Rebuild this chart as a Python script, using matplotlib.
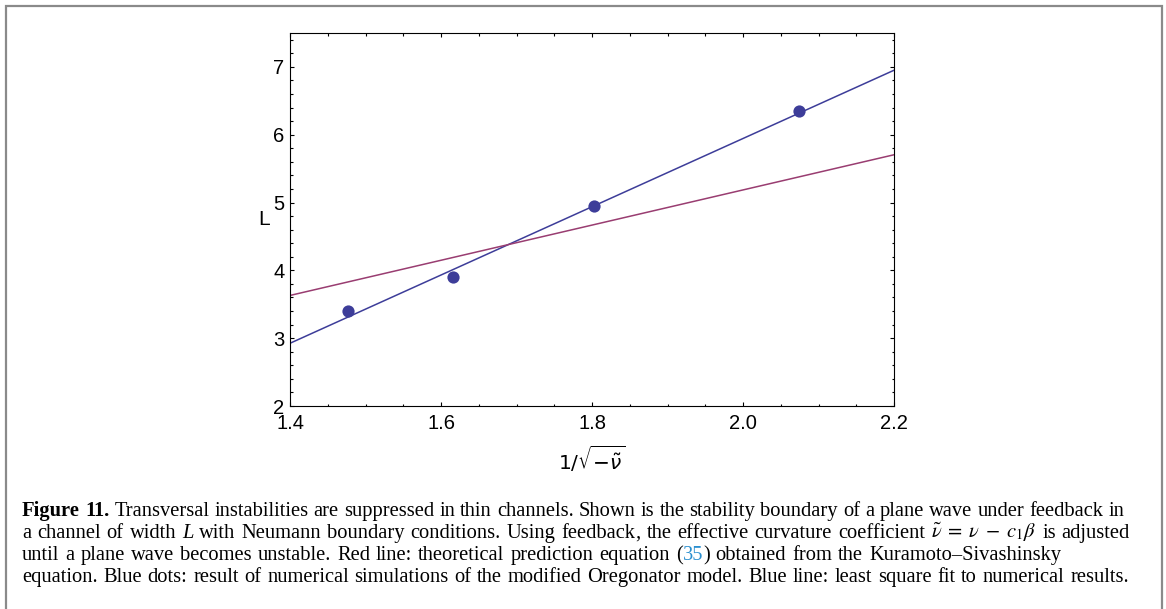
import numpy as np
import matplotlib
matplotlib.use('Agg')
import matplotlib.pyplot as plt
from matplotlib.patches import Rectangle
from matplotlib.ticker import MultipleLocator

# численные результаты (модифицированная модель Орегонатора)
x_sim = [1.477, 1.6155, 1.803, 2.0737]
L_sim = [3.40, 3.90, 4.945, 6.345]

# теоретическая граница: L = k / sqrt(-nu)
k_theory = 2.593
x_range = [1.4, 2.2]

blue = '#3d3d99'
red = '#993d71'

fig = plt.figure(figsize=(11.66, 6.09), dpi=100)

# рамка вокруг рисунка (нижний край уходит за пределы)
fig.patches.append(Rectangle((6 / 1166, -0.05), 1156 / 1166, 1 - 6 / 609 + 0.05,
                             transform=fig.transFigure, fill=False,
                             edgecolor='#8a8a8a', linewidth=1.6))

ax = fig.add_axes([290 / 1166, 1 - 406 / 609, 604 / 1166, 373 / 609])

# метод наименьших квадратов по точкам
p = np.polyfit(x_sim, L_sim, 1)
xx = np.array(x_range)
ax.plot(xx, np.polyval(p, xx), color=blue, lw=1.1)
ax.plot(xx, k_theory * xx, color=red, lw=1.1)
ax.plot(x_sim, L_sim, 'o', color=blue, ms=8.8, mec='none')

ax.set_xlim(1.4, 2.2)
ax.set_ylim(2, 7.5)
ax.xaxis.set_major_locator(MultipleLocator(0.2))
ax.xaxis.set_minor_locator(MultipleLocator(0.05))
ax.yaxis.set_major_locator(MultipleLocator(1))
ax.yaxis.set_minor_locator(MultipleLocator(0.2))
ax.xaxis.set_major_formatter(plt.FuncFormatter(lambda v, pos: '%.1f' % v))
ax.tick_params(which='both', direction='in', top=True, right=True, width=0.8,
               labelsize=14.5, labelfontfamily='Liberation Sans')
ax.tick_params(axis='x', which='major', pad=6)
ax.tick_params(axis='y', which='major', pad=4)
ax.tick_params(which='major', length=3.2)
ax.tick_params(which='minor', length=1.8)
for s in ax.spines.values():
    s.set_linewidth(0.8)

ax.set_ylabel('L', fontsize=15, family='Liberation Sans', rotation=0, va='center', ha='center')
ax.yaxis.set_label_coords(-0.043, 0.5)
xl = ax.set_xlabel(r'$1/\sqrt{-\tilde{\nu}}$', fontsize=14.5, family='Liberation Sans')
xl.set_math_fontfamily('dejavusans')
ax.xaxis.set_label_coords(0.5, -0.102)

# подпись к рисунку: строки собираются из кусков и растягиваются до правого края
styles = {
    'r': dict(family='Liberation Serif'),
    'b': dict(family='Liberation Serif', weight='bold'),
    'i': dict(family='Liberation Serif', style='italic'),
    'm': dict(family='Liberation Serif', math_fontfamily='stix'),
    'c': dict(family='Liberation Serif', color='#2b8fcf'),
}
cap_size = 14.8
cap_left = 22
cap_base = [516, 538, 560, 582]   # базовые линии строк, px сверху
cap_right = [1124, 1130, 1061, 1129]

line1 = [('Figure 11.', 'b', True),
         ('Transversal instabilities are suppressed in thin channels. Shown is the stability '
          'boundary of a plane wave under feedback in', 'r', True)]
line2 = [('a channel of width', 'r', True), ('L', 'i', True),
         ('with Neumann boundary conditions. Using feedback', 'r', False), (',', 'r', True),
         ('the effective curvature coefficient', 'r', True),
         (r'$\tilde{\nu}\;=\;\nu\;-\;c_1\beta$', 'm', True), ('is adjusted', 'r', True)]
line3 = [('until a plane wave becomes unstable. Red line: theoretical prediction equation', 'r', True),
         ('(', 'r', False), ('35', 'c', False), (')', 'r', True),
         ('obtained from the Kuramoto–Sivashinsky', 'r', True)]
line4 = [('equation. Blue dots: result of numerical simulations of the modified Oregonator model. '
          'Blue line: least square fit to numerical results.', 'r', True)]
lines = [line1, line2, line3, line4]

renderer = fig.canvas.get_renderer()


def make_words(parts):
    # слово = список кусков без пробела между ними
    words, cur = [], []
    for text, st, space_after in parts:
        if st == 'm':
            toks = [text]
        else:
            toks = text.split(' ')
        for j, tk in enumerate(toks):
            cur.append((tk, st))
            if j < len(toks) - 1 or space_after:
                words.append(cur)
                cur = []
    if cur:
        words.append(cur)
    return words


for parts, y, xr in zip(lines, cap_base, cap_right):
    words = make_words(parts)
    placed = []
    for w in words:
        pieces = []
        for tk, st in w:
            t = fig.text(0, 1 - y / 609, tk, fontsize=cap_size, va='baseline',
                         ha='left', **styles[st])
            pieces.append((t, t.get_window_extent(renderer).width))
        placed.append(pieces)
    widths = [sum(pw for _, pw in pcs) for pcs in placed]
    gap = (xr - cap_left - sum(widths)) / (len(placed) - 1)
    x = cap_left
    for pcs, ww in zip(placed, widths):
        xp = x
        for t, pw in pcs:
            t.set_x(xp / 1166)
            xp += pw
        x += ww + gap

fig.savefig('out.png', dpi=100)
